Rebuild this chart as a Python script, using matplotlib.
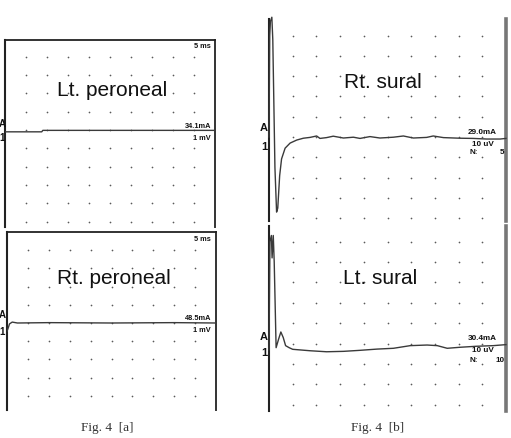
import matplotlib
matplotlib.use("Agg")
import matplotlib.pyplot as plt
import numpy as np

W, H = 511, 439

# ---------------- data (time in grid divisions, amplitude in grid divisions) -------------
lt_peroneal_t = [0.0, 1.75, 1.8, 10.0]
lt_peroneal_v = [-0.1, -0.1, -0.02, -0.02]

rt_peroneal_t = [0.0, 0.05, 0.12, 0.25, 0.5, 2.0, 5.0, 8.0, 10.0]
rt_peroneal_v = [-0.45, -0.3, -0.05, 0.05, 0.0, 0.02, 0.0, 0.02, 0.0]

rt_sural_t = [0.0, 0.03, 0.06, 0.12, 0.16, 0.2, 0.25, 0.32, 0.37, 0.45, 0.53, 0.68, 0.89, 1.17,
              1.45, 1.73, 2.01, 2.15, 2.43, 2.71, 3.14, 3.56, 3.84, 4.26, 4.68, 5.25, 5.67,
              6.09, 6.65, 6.93, 7.36, 8.06, 8.62, 9.19, 9.75, 10.0]
rt_sural_v = [0.0, 5.0, 5.7, 5.9, 4.8, 2.0, -1.5, -3.7, -3.5, -1.9, -1.08, -0.55, -0.3, -0.15,
              -0.06, -0.02, 0.05, -0.07, -0.03, 0.04, -0.05, -0.01, -0.07, 0.02, -0.05, -0.01, 0.05,
              -0.05, -0.02, 0.05, -0.03, -0.06, -0.07, -0.1, -0.1, -0.07]

lt_sural_t = [0.0, 0.04, 0.1, 0.13, 0.18, 0.22, 0.3, 0.4, 0.5, 0.6, 0.7, 0.85, 1.0,
              1.73, 2.43, 3.14, 3.84, 4.55, 5.25, 5.96, 6.67, 7.1, 7.52, 8.06,
              8.76, 9.47, 10.0]
lt_sural_v = [0.7, 6.0, 6.3, 5.2, 6.3, 5.0, 0.8, 1.2, 1.57, 1.3, 0.9, 0.8, 0.72,
              0.65, 0.6, 0.62, 0.67, 0.73, 0.77, 0.9, 0.93, 0.9, 0.77, 0.82,
              0.87, 0.9, 0.95]

panel_titles = ["Lt. peroneal", "Rt. peroneal", "Rt. sural", "Lt. sural"]
stim_labels = ["34.1mA", "48.5mA", "29.0mA", "30.4mA"]
gain_labels = ["1 mV", "1 mV", "10 uV", "10 uV"]
sweep_label = "5 ms"
avg_labels = ["5", "10"]
captions = ["Fig. 4  [a]", "Fig. 4  [b]"]

# ---------------- figure -------------------------------------------------------------
fig = plt.figure(figsize=(W / 100, H / 100), dpi=100)
fig.patch.set_facecolor("white")

SANS = "Liberation Sans"
SERIF = "Liberation Serif"
TRACE_C = "#3a3a3a"
DOT_C = "#5a5a5a"


def fx(px):
    return px / W


def fy(py):
    return 1 - py / H


def panel(x0, x1, y0, y1, base_py, step, rows, top_spine, right_thick):
    ax = fig.add_axes([fx(x0), fy(y1), (x1 - x0) / W, (y1 - y0) / H])
    ytop = (base_py - y0) / step
    ybot = -(y1 - base_py) / step
    ax.set_xlim(0, 10)
    ax.set_ylim(ybot, ytop)
    ax.set_xticks([])
    ax.set_yticks([])
    ax.patch.set_alpha(0)
    cols = np.arange(1, 10)
    gx, gy = np.meshgrid(cols, np.array(rows))
    ax.scatter(gx.ravel(), gy.ravel(), s=1.5, color=DOT_C, linewidths=0, zorder=1)
    ax.spines["bottom"].set_visible(False)
    ax.spines["top"].set_visible(top_spine)
    ax.spines["top"].set_linewidth(1.3)
    ax.spines["top"].set_color("#222222")
    ax.spines["left"].set_linewidth(1.5)
    ax.spines["left"].set_color("#222222")
    if right_thick:
        ax.spines["right"].set_linewidth(2.6)
        ax.spines["right"].set_color("#777777")
    else:
        ax.spines["right"].set_linewidth(1.4)
        ax.spines["right"].set_color("#333333")
    return ax


# Left top: Lt. peroneal
ax1 = panel(5, 215, 41, 228, 131, 18.3, range(-5, 5), True, False)
ax1.plot(lt_peroneal_t, lt_peroneal_v, color=TRACE_C, lw=1.0, zorder=3)

# Left bottom: Rt. peroneal
ax2 = panel(7, 216, 233, 411, 324, 18.2, range(-4, 5), True, False)
ax2.plot(rt_peroneal_t, rt_peroneal_v, color=TRACE_C, lw=1.0, zorder=3)

# Right top: Rt. sural
ax3 = panel(269, 506, 20, 222, 138, 20.3, range(-4, 6), False, True)
ax3.plot(rt_sural_t, rt_sural_v, color=TRACE_C, lw=1.0, zorder=3, clip_on=False)

# Right bottom: Lt. sural
ax4 = panel(269, 506, 227, 412, 365, 20.4, range(-2, 7), False, True)
ax4.plot(lt_sural_t, lt_sural_v, color=TRACE_C, lw=1.0, zorder=3, clip_on=False)


def ftext(px, py, s, size, ha="center", weight="normal", family=SANS, color="#111111"):
    fig.text(fx(px), fy(py), s, fontsize=size, ha=ha, va="center",
             fontweight=weight, family=family, color=color)


# Panel titles
ftext(112, 91, panel_titles[0], 15)
ftext(114, 279, panel_titles[1], 15)
ftext(383, 82, panel_titles[2], 15)
ftext(380, 279, panel_titles[3], 15)

# Left panel labels
ftext(211, 46, sweep_label, 5.3, ha="right", weight="bold")
ftext(211, 240, sweep_label, 5.3, ha="right", weight="bold")
ftext(211, 127, stim_labels[0], 5.3, ha="right", weight="bold")
ftext(211, 138, gain_labels[0], 5.3, ha="right", weight="bold")
ftext(211, 319, stim_labels[1], 5.3, ha="right", weight="bold")
ftext(211, 330, gain_labels[1], 5.3, ha="right", weight="bold")
ftext(2, 124, "A", 7, weight="bold")
ftext(2, 138, "1", 7, weight="bold")
ftext(2, 315, "A", 7, weight="bold")
ftext(2, 332, "1", 7, weight="bold")

# Right panel labels
ftext(497, 133, stim_labels[2], 5.9, ha="right", weight="bold")
ftext(494, 144, gain_labels[2], 5.9, ha="right", weight="bold")
ftext(470, 153, "N:", 5.9, ha="left", weight="bold")
ftext(504, 153, avg_labels[0], 5.9, ha="right", weight="bold")
ftext(264, 128, "A", 8, weight="bold")
ftext(264, 147, "1", 8, weight="bold")

ftext(497, 339, stim_labels[3], 5.9, ha="right", weight="bold")
ftext(494, 351, gain_labels[3], 5.9, ha="right", weight="bold")
ftext(470, 361, "N:", 5.9, ha="left", weight="bold")
ftext(505, 361, avg_labels[1], 5.9, ha="right", weight="bold")
ftext(264, 337, "A", 8, weight="bold")
ftext(264, 353, "1", 8, weight="bold")

# Captions
ftext(107, 428, captions[0], 9.5, family=SERIF, color="#333333")
ftext(378, 428, captions[1], 9.5, family=SERIF, color="#333333")

fig.savefig("out.png", dpi=100, facecolor="white")
